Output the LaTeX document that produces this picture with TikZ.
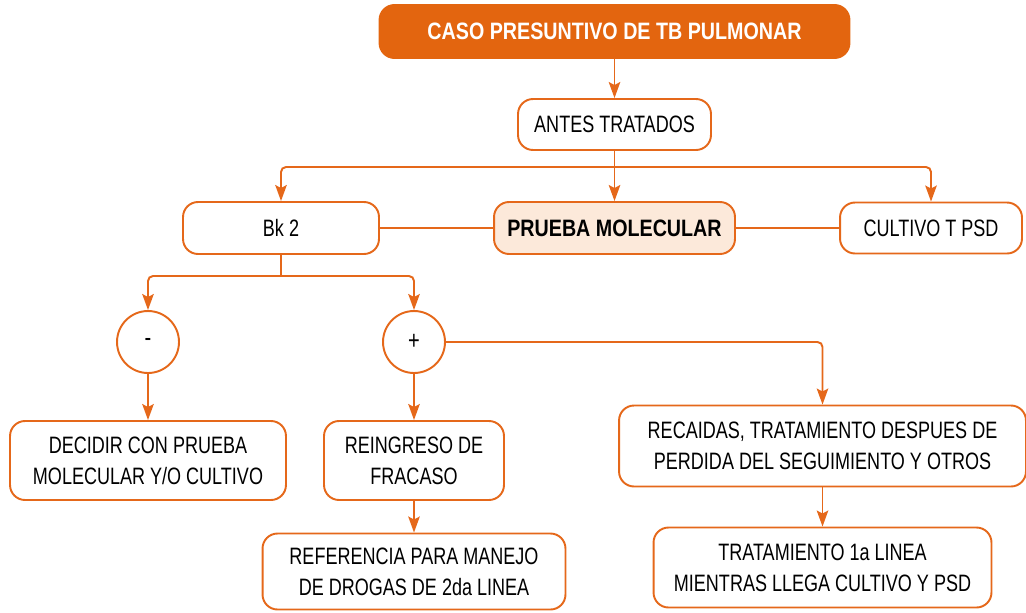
\documentclass[tikz,border=0pt]{standalone}
\usepackage{fontspec}
\setmainfont[FakeStretch=0.76, BoldFeatures={FakeStretch=0.83}]{Liberation Sans}
\usepackage{tikz}
\usetikzlibrary{arrows.meta, positioning}
\usepackage{xcolor}
\definecolor{naranja}{HTML}{E5681A}
\definecolor{naranjaosc}{HTML}{E3650F}
\definecolor{crema}{HTML}{FCE9DA}

\begin{document}
\begin{tikzpicture}[x=0.02cm, y=-0.02cm]
\tikzset{
>={Stealth[length=0.32cm, width=0.23cm, inset=0.06cm]}, % arrow heads like the original
linea/.style={draw=naranja, line width=1.1pt}, % orange connectors
caja/.style={rectangle, rounded corners=0.3cm, draw=naranja, line width=1.1pt, fill=white, align=center, font=\fontsize{13.5}{17.5}\selectfont, inner sep=2pt}, % normal box
titulo/.style={caja, fill=naranjaosc, draw=naranjaosc, text=white, font=\fontsize{13.5}{17.5}\selectfont\bfseries}, % top box
clave/.style={caja, fill=crema, font=\fontsize{13.5}{17.5}\selectfont\bfseries}, % highlighted box
signo/.style={circle, draw=naranja, line width=1.1pt, fill=white, minimum size=1.24cm, inner sep=0pt, font=\fontsize{15}{17}\selectfont}, % the - and + circles
}
	\useasboundingbox (0,0) rectangle (1026,612);

	\node[titulo, minimum width=9.4cm, minimum height=1.06cm] (caso) at (614.5,31.5) {CASO PRESUNTIVO DE TB PULMONAR};
	\node[caja, minimum width=3.86cm, minimum height=1.02cm] (antes) at (614.5,124.5) {ANTES TRATADOS};
	\node[caja, minimum width=3.92cm, minimum height=1.04cm] (bk) at (281,228) {Bk 2};
	\node[clave, minimum width=4.82cm, minimum height=1.04cm] (prueba) at (614.5,228) {PRUEBA MOLECULAR};
	\node[caja, minimum width=3.64cm, minimum height=1.02cm] (cultivo) at (931,228) {CULTIVO T PSD};
	\node[signo] (menos) at (148,342) {-};
	\node[signo] (mas) at (414,342) {+};
	\node[caja, minimum width=5.52cm, minimum height=1.58cm] (decidir) at (148,460.5) {DECIDIR CON PRUEBA\\MOLECULAR Y/O CULTIVO};
	\node[caja, minimum width=3.6cm, minimum height=1.58cm] (reingreso) at (414,460.5) {REINGRESO DE\\FRACASO};
	\node[caja, minimum width=6.06cm, minimum height=1.52cm] (referencia) at (414,571.5) {REFERENCIA PARA MANEJO\\DE DROGAS DE 2da LINEA};
	\node[caja, minimum width=8.14cm, minimum height=1.62cm] (recaidas) at (822.5,446) {RECAIDAS, TRATAMIENTO DESPUES DE\\PERDIDA DEL SEGUIMIENTO Y OTROS};
	\node[caja, minimum width=6.76cm, minimum height=1.6cm] (primera) at (822.5,567.5) {TRATAMIENTO 1a LINEA\\MIENTRAS LLEGA CULTIVO Y PSD};

	\coordinate (rama1) at (614.5,167);
	\coordinate (rama2) at (281,276);

	\draw[linea, ->] (caso) -- (antes);
	\draw[linea] (antes) -- (rama1);
	\draw[linea, ->] (rama1) -- (prueba);
	\draw[linea, ->, rounded corners=0.1cm] (rama1) -| (bk);
	\draw[linea, ->, rounded corners=0.1cm] (rama1) -| (cultivo);
	\draw[linea] (bk) -- (prueba)
	(prueba) -- (cultivo);
	\draw[linea] (bk) -- (rama2);
	\draw[linea, ->, rounded corners=0.1cm] (rama2) -| (menos);
	\draw[linea, ->, rounded corners=0.1cm] (rama2) -| (mas);
	\draw[linea, ->, rounded corners=0.1cm] (mas) -| (recaidas);
	\draw[linea, ->] (menos) -- (decidir);
	\draw[linea, ->] (mas) -- (reingreso);
	\draw[linea, ->] (reingreso) -- (referencia);
	\draw[linea, ->] (recaidas) -- (primera);
\end{tikzpicture}
\end{document}
